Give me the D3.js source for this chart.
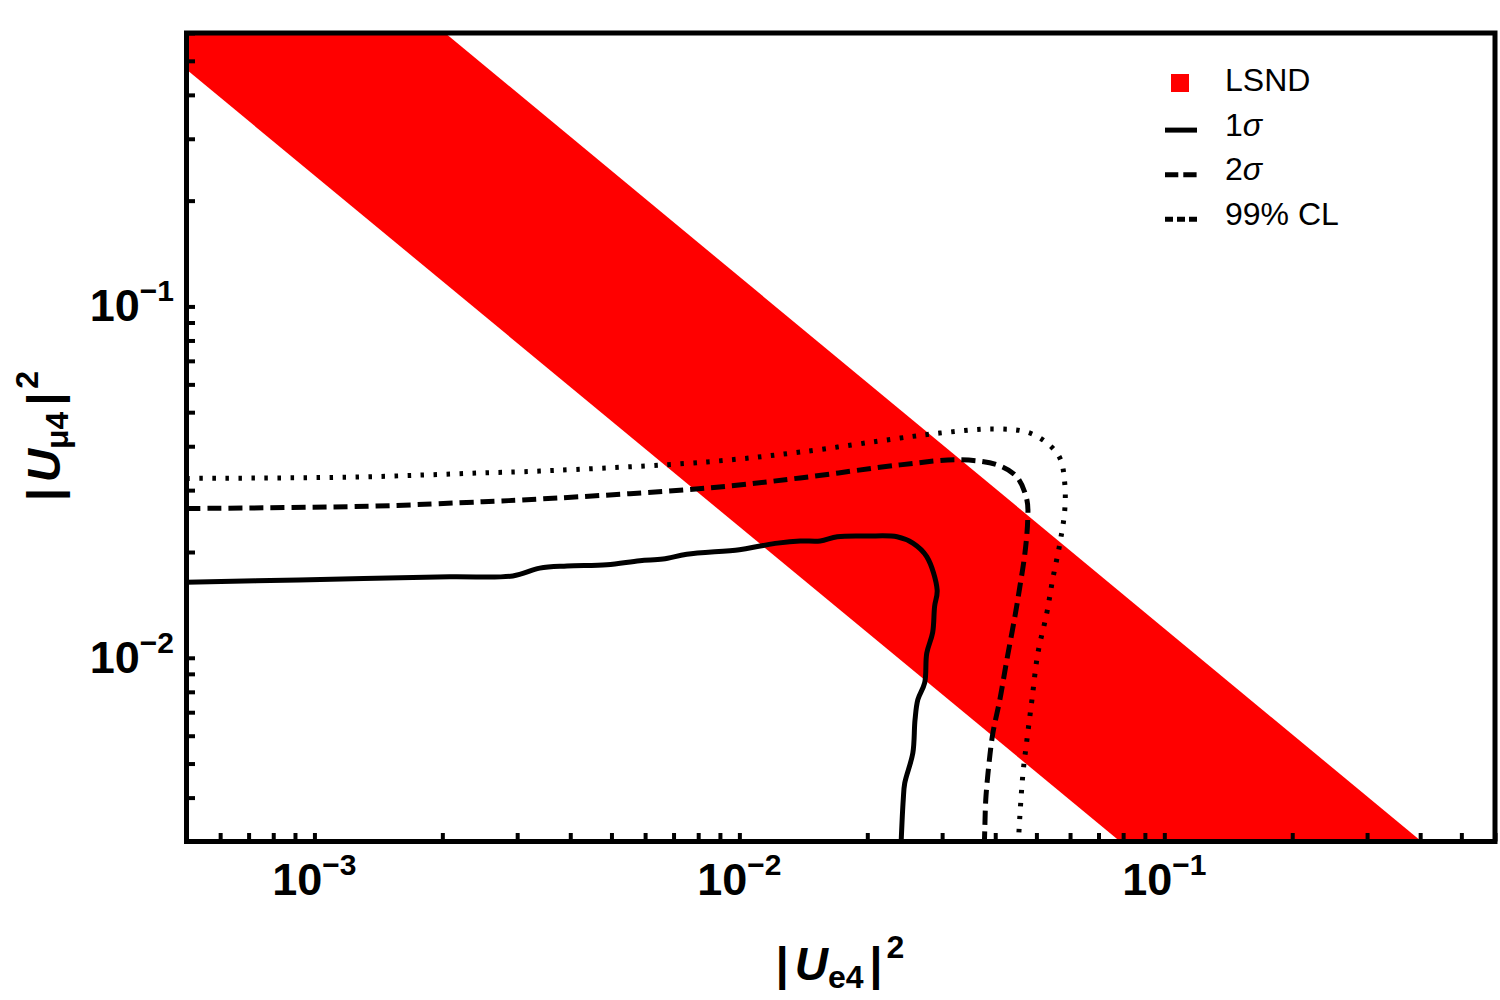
<html>
<head>
<meta charset="utf-8">
<script src="https://d3js.org/d3.v7.min.js"></script>
<style>
body {
	margin: 0;
	background: #fff;
}
text {
	font-family: "Liberation Sans", Arial, sans-serif;
}
</style>
</head>
<body>
<svg id="chart" width="1500" height="1000"></svg>
<script>

// corners of the LSND band, [|Ue4|^2, |Umu4|^2]
var lsndBand = [[5e-4, 0.6], [2.03e-3, 0.6], [0.403, 3e-3], [0.0787, 3e-3], [5e-4, 0.472]]

// contours, [|Ue4|^2, |Umu4|^2]
var sigma1 = [
	[5.0e-4, 1.64e-2], [9.2e-4, 1.665e-2], [2.08e-3, 1.70e-2], [2.93e-3, 1.71e-2],
	[3.39e-3, 1.80e-2], [3.93e-3, 1.825e-2], [4.88e-3, 1.84e-2], [5.83e-3, 1.89e-2],
	[6.61e-3, 1.91e-2], [7.52e-3, 1.97e-2], [1.0e-2, 2.03e-2], [1.12e-2, 2.08e-2],
	[1.23e-2, 2.12e-2], [1.39e-2, 2.15e-2], [1.55e-2, 2.15e-2], [1.70e-2, 2.21e-2],
	[2.0e-2, 2.22e-2], [2.35e-2, 2.21e-2], [2.56e-2, 2.12e-2], [2.76e-2, 1.94e-2],
	[2.92e-2, 1.56e-2], [2.88e-2, 1.40e-2], [2.85e-2, 1.18e-2], [2.76e-2, 1.03e-2],
	[2.73e-2, 8.5e-3], [2.63e-2, 7.6e-3], [2.59e-2, 6.65e-3], [2.56e-2, 5.36e-3],
	[2.45e-2, 4.4e-3], [2.43e-2, 3.94e-3], [2.40e-2, 2.9e-3]
]

var sigma2 = [
	[5.0e-4, 2.66e-2], [1.35e-3, 2.70e-2], [2.49e-3, 2.78e-2], [3.39e-3, 2.83e-2],
	[8.39e-3, 3.04e-2], [1.39e-2, 3.25e-2], [2.39e-2, 3.54e-2], [3.30e-2, 3.66e-2],
	[4.04e-2, 3.54e-2], [4.50e-2, 3.27e-2], [4.75e-2, 2.81e-2], [4.77e-2, 2.47e-2],
	[4.70e-2, 1.99e-2], [4.57e-2, 1.59e-2], [4.45e-2, 1.31e-2], [4.26e-2, 9.86e-3],
	[4.10e-2, 7.58e-3], [3.95e-2, 6.11e-3], [3.86e-2, 4.89e-3], [3.80e-2, 3.94e-3],
	[3.78e-2, 3.24e-3], [3.77e-2, 2.9e-3]
]

var cl99 = [
	[5.0e-4, 3.24e-2], [1.26e-3, 3.27e-2], [2.49e-3, 3.36e-2], [3.39e-3, 3.40e-2],
	[8.39e-3, 3.61e-2], [1.39e-2, 3.85e-2], [2.39e-2, 4.22e-2], [2.96e-2, 4.36e-2],
	[3.95e-2, 4.48e-2], [4.75e-2, 4.39e-2], [5.29e-2, 4.09e-2], [5.68e-2, 3.70e-2],
	[5.83e-2, 3.14e-2], [5.83e-2, 2.63e-2], [5.68e-2, 2.12e-2], [5.46e-2, 1.67e-2],
	[5.29e-2, 1.34e-2], [5.04e-2, 1.03e-2], [4.88e-2, 7.58e-3], [4.75e-2, 5.84e-3],
	[4.65e-2, 4.70e-3], [4.57e-2, 3.52e-3], [4.53e-2, 2.9e-3]
]

var xLabels = [1e-3, 1e-2, 1e-1]
var yLabels = [1e-2, 1e-1]
var legendNames = ["LSND", "1σ", "2σ", "99% CL"]

var svg = d3.select("#chart"),
	margin = {top: 33, left: 186.5, bottom: 158.5, right: 5},
	width = +svg.attr("width"),
	height = +svg.attr("height");

var x = d3.scaleLog()
	.domain([5e-4, 0.6])
	.range([margin.left, width - margin.right])

var y = d3.scaleLog()
	.domain([3e-3, 0.6])
	.range([height - margin.bottom, margin.top])

svg.append("clipPath").attr("id", "plot")
	.append("rect")
	.attr("x", x.range()[0]).attr("y", y.range()[1])
	.attr("width", x.range()[1] - x.range()[0])
	.attr("height", y.range()[0] - y.range()[1])

var inner = svg.append("g").attr("clip-path", "url(#plot)")

inner.append("path")
	.datum(lsndBand)
	.attr("fill", "#ff0000")
	.attr("d", d3.line().x(d => x(d[0])).y(d => y(d[1])))

var line = d3.line()
	.x(d => x(d[0]))
	.y(d => y(d[1]))
	.curve(d3.curveCatmullRom.alpha(0.5))

var styles = [
	{data: sigma1, dash: null},
	{data: sigma2, dash: "14,7"},
	{data: cl99, dash: "3.5,9.5"}
]

inner.selectAll("path.contour")
	.data(styles)
	.enter().append("path")
	.attr("class", "contour")
	.attr("fill", "none")
	.attr("stroke", "#000")
	.attr("stroke-width", 5)
	.attr("stroke-dasharray", d => d.dash)
	.attr("d", d => line(d.data))

// ticks point inward, only on bottom and left
var xAxis = svg.append("g")
	.attr("transform", `translate(0,${y.range()[0]})`)
	.call(d3.axisBottom(x).tickValues(x.ticks()).tickSizeInner(-8.5).tickSizeOuter(0).tickFormat(""))

var yAxis = svg.append("g")
	.attr("transform", `translate(${x.range()[0]},0)`)
	.call(d3.axisLeft(y).tickValues(y.ticks()).tickSizeInner(-8.5).tickSizeOuter(0).tickFormat(""))

svg.selectAll(".domain").remove()
svg.selectAll(".tick line").attr("stroke", "#000").attr("stroke-width", 4)

svg.append("rect")
	.attr("x", x.range()[0]).attr("y", y.range()[1])
	.attr("width", x.range()[1] - x.range()[0])
	.attr("height", y.range()[0] - y.range()[1])
	.attr("fill", "none")
	.attr("stroke", "#000")
	.attr("stroke-width", 5)

function power(sel) {
	sel.append("tspan").text("10")
	sel.append("tspan")
		.attr("font-size", 30)
		.attr("dy", -20)
		.text(d => "\u2212" + Math.round(-Math.log10(d)))
}

svg.selectAll("text.xlab")
	.data(xLabels)
	.enter().append("text")
	.attr("class", "xlab")
	.attr("x", d => x(d))
	.attr("y", 895)
	.attr("text-anchor", "middle")
	.attr("font-weight", "bold")
	.attr("font-size", 45)
	.call(power)

svg.selectAll("text.ylab")
	.data(yLabels)
	.enter().append("text")
	.attr("class", "ylab")
	.attr("x", 174)
	.attr("y", d => y(d) + 15)
	.attr("text-anchor", "end")
	.attr("font-weight", "bold")
	.attr("font-size", 45)
	.call(power)

function title(g, sub) {
	var t = g.append("text")
		.attr("text-anchor", "middle")
		.attr("font-weight", "bold")
		.attr("font-size", 46)
	t.append("tspan").text("|")
	t.append("tspan").attr("dx", 6).attr("font-style", "italic").text("U")
	t.append("tspan").attr("font-size", 32).attr("dy", 8).text(sub)
	t.append("tspan").attr("dx", 6).attr("dy", -8).text("|")
	t.append("tspan").attr("font-size", 32).attr("dy", -22).attr("dx", 4).text("2")
}

svg.append("g").attr("transform", "translate(840,980)").call(title, "e4")
svg.append("g").attr("transform", "translate(60,436) rotate(-90)").call(title, "μ4")

// legend
var legend = svg.append("g")
	.selectAll("g")
	.data(legendNames)
	.enter().append("g")
	.attr("transform", (d, i) => `translate(0,${91 + i * 44.6})`)

legend.filter((d, i) => i == 0).append("rect")
	.attr("x", 1171).attr("y", -17)
	.attr("width", 18).attr("height", 18)
	.attr("fill", "#ff0000")

var legendDash = [null, null, "13.3,5", "8,4"]

legend.filter((d, i) => i > 0).append("line")
	.attr("x1", 1165).attr("x2", 1197)
	.attr("y1", -5.5).attr("y2", -5.5)
	.attr("stroke", "#000")
	.attr("stroke-width", 5)
	.attr("stroke-dasharray", (d, i) => legendDash[i + 1])

var ltext = legend.append("text")
	.attr("x", 1225)
	.attr("font-size", 32)

ltext.append("tspan").text(d => d.replace("σ", ""))
ltext.filter(d => d.includes("σ")).append("tspan")
	.attr("font-style", "italic")
	.text("σ")

</script>
</body>
</html>
